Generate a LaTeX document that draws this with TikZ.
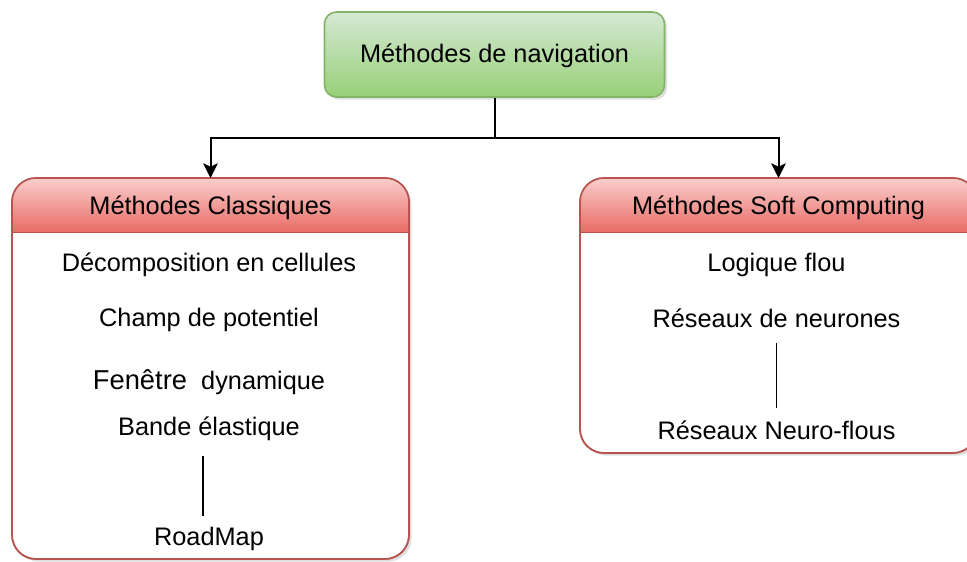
\documentclass[tikz,border=0pt]{standalone}
\usepackage{fontspec}
\setmainfont{Liberation Sans}
\usetikzlibrary{arrows.meta,shadows}

\definecolor{navtop}{RGB}{213,232,212}
\definecolor{navbot}{RGB}{151,208,119}
\definecolor{navline}{RGB}{130,179,102}
\definecolor{grptop}{RGB}{248,206,204}
\definecolor{grpbot}{RGB}{234,107,102}
\definecolor{grpline}{RGB}{184,84,80}

\tikzset{every picture/.style={line width=0.75pt}}
\tikzset{
  txt/.style={font=\fontsize{19}{23}\selectfont, inner sep=2pt},
  navbox/.style={txt, draw=navline, line width=1.2pt, rounded corners=9pt,
    top color=navtop, bottom color=navbot,
    drop shadow={shadow xshift=2pt, shadow yshift=-2pt, opacity=0.25}},
  grpbox/.style={draw=grpline, line width=1.2pt, rounded corners=18pt, fill=white, outer sep=0pt,
    drop shadow={shadow xshift=2pt, shadow yshift=-2pt, opacity=0.25}},
  conn/.style={line width=1.5pt, -{Stealth[length=11pt, width=11pt, inset=2.5pt]}},
  link/.style={line width=1.2pt}
}

% header band of a group box (yscale=-1, so a positive yshift goes down)
\newcommand{\grphead}[1]{%
  \begin{scope}
    \clip[rounded corners=18pt] (#1.north west) rectangle (#1.south east);
    \shade[top color=grptop, bottom color=grpbot] (#1.north west) rectangle ([yshift=40.5pt]#1.north east);
  \end{scope}
  \draw[grpline, line width=0.6pt] ([yshift=40.5pt]#1.north west) -- ([yshift=40.5pt]#1.north east);
  \draw[grpline, line width=1.2pt, rounded corners=18pt] (#1.north west) rectangle (#1.south east);
}

\begin{document}
\begin{tikzpicture}[x=0.75pt,y=0.75pt,yscale=-1,xscale=1]
  \clip (0,0) rectangle (967,561);
  \fill[white] (0,0) rectangle (967,561);

  %Shape: Rounded Rect [id:nav]
  \node[navbox, minimum width=255pt, minimum height=63.75pt] (nav) at (494.5,54.5) {};
  % Text Node
  \node[txt] (navT) at (494.5,56) {Méthodes de navigation};

  %Shape: Swimlane [id:classic]
  \node[grpbox, minimum width=297.75pt, minimum height=285.75pt] (classic) at (210.5,368.5) {};
  \grphead{classic}
  %Shape: Swimlane [id:soft]
  \node[grpbox, minimum width=297.75pt, minimum height=206.25pt] (soft) at (778.5,315.5) {};
  \grphead{soft}

  % Text Node
  \node[txt] (classicH) at (210.5,208) {Méthodes Classiques};
  % Text Node
  \node[txt] (softH) at (778.5,208) {Méthodes Soft Computing};

  % Text Node
  \node[txt] (cells) at (209,265) {Décomposition en cellules};
  % Text Node
  \node[txt] (champ) at (209,320) {Champ de potentiel};
  % Text Node
  \node[txt] (fenetre) at (209,382) {{\fontsize{20.5}{23}\selectfont Fenêtre}\ \ dynamique};
  % Text Node
  \node[txt] (bande) at (209,429) {Bande élastique};
  % Text Node
  \node[txt] (road) at (209,539) {RoadMap};

  % Text Node
  \node[txt] (flou) at (776.5,265) {Logique flou};
  % Text Node
  \node[txt] (neur) at (776.5,318) {Réseaux de neurones};
  % Text Node
  \node[txt] (neurflou) at (776.5,430) {Réseaux Neuro-flous};

  %Straight Lines [id:conn]
  \draw[conn] (nav.south) -- ++(0,40) -| (classic.north);
  \draw[conn] (nav.south) -- ++(0,40) -| (soft.north);

  %Straight Lines [id:links]
  \draw[link, shorten <=9pt, shorten >=6pt] ([xshift=-4.5pt]bande.south) -- ([xshift=-4.5pt]road.north);
  \draw[link, shorten <=9pt, shorten >=7pt] (neur.south) -- (neurflou.north);

\end{tikzpicture}
\end{document}
